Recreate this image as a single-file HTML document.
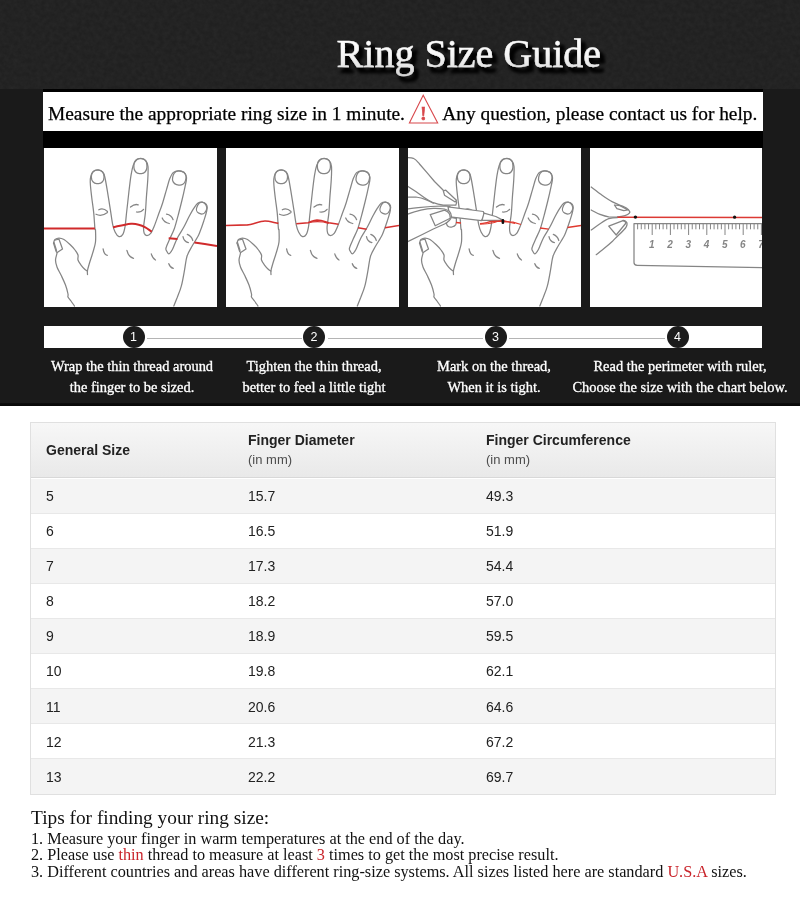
<!DOCTYPE html>
<html lang="en">
<head>
<meta charset="utf-8">
<title>Ring Size Guide</title>
<style>
*{box-sizing:border-box;margin:0;padding:0}
html,body{width:800px;height:914px;overflow:hidden;background:#fff}
body{position:relative;font-family:"Liberation Serif",serif;color:#000}
.abs{position:absolute}
#topband{left:0;top:0;width:800px;height:89px;background:#202020}
#dark{left:0;top:89px;width:800px;height:316.6px;background:linear-gradient(#1a1a1a,#1a1a1a 313.6px,#0a0a0a 314.6px,#080808)}
#blackstrip{left:43px;top:89px;width:720px;height:59px;background:#000}
#whitestrip{left:43px;top:92px;width:720px;height:38.6px;background:#fff}
.strip{font-size:19.1px;line-height:22px;white-space:nowrap;color:#000;-webkit-text-stroke:.25px #000}
.panel{top:147.8px;width:173px;height:159.2px;background:#fff;overflow:hidden}
.panel svg{position:absolute;left:0;top:0;width:173px;height:159px;display:block}
#bar{left:44px;top:326px;width:718px;height:22px;background:#fff}
.dot{top:326px;width:22px;height:22px;border-radius:50%;background:#1c1c1c;color:#fff;
  font-family:"Liberation Sans",sans-serif;font-size:12.5px;line-height:23.6px;text-align:center}
.seg{top:338px;height:1px;background:#b4b4b4}
.step{top:355.7px;width:240px;text-align:center;color:#fff;font-size:14.45px;line-height:21px;white-space:nowrap;
  -webkit-text-stroke:.3px #fff}
#tbl{left:30px;top:422px;width:746.4px;height:372.6px;border:1px solid #e0e0e0;background:#fff;
  font-family:"Liberation Sans",sans-serif;font-size:14px;color:#222}
#tbl .hd{position:absolute;left:0;top:0;width:744.4px;height:55.2px;background:linear-gradient(#f7f7f7,#e9e9e9);border-bottom:1px solid #d8d8d8}
#tbl .row{position:absolute;left:0;width:744.4px;height:35.08px;border-bottom:1px solid #e8e8e8;line-height:16px}
#tbl .row.g{background:#f4f4f4}
#tbl span{position:absolute;white-space:nowrap}
#tbl .c1{left:15px}#tbl .c2{left:217px}#tbl .c3{left:455px}
#tbl .row span{top:9.55px}
#tbl b{font-weight:bold}
#tbl .sub{font-size:13px;color:#4d4d4d}
#tips{left:31px;top:807px;white-space:nowrap;color:#111}
#tips h3{font-weight:normal;font-size:19.33px;line-height:22px;height:23.7px}
#tips p{font-size:16.24px;line-height:16.6px;height:16.6px}
#tips em{font-style:normal;color:#c9242b}
</style>
</head>
<body>
<div id="topband" class="abs"></div>
<svg class="abs" style="left:0;top:0" width="800" height="89" viewBox="0 0 800 89">
<filter id="nz" x="0" y="0" width="100%" height="100%"><feTurbulence type="fractalNoise" baseFrequency="0.22" numOctaves="3" seed="7"/><feColorMatrix type="matrix" values="0 0 0 0 1  0 0 0 0 1  0 0 0 0 1  0.05 0 0 0 -0.012"/></filter>
<rect width="800" height="89" filter="url(#nz)"/>
</svg>
<div id="dark" class="abs"></div>
<div id="blackstrip" class="abs"></div>
<div id="whitestrip" class="abs"></div>
<svg id="title" class="abs" style="left:0;top:0" width="800" height="89" viewBox="0 0 800 89">
<linearGradient id="tg" gradientUnits="userSpaceOnUse" x1="0" y1="38" x2="0" y2="76"><stop offset="0" stop-color="#ffffff"/><stop offset="0.45" stop-color="#f6f6f6"/><stop offset="1" stop-color="#d6d6d6"/></linearGradient>
<filter id="ts" x="-5%" y="-30%" width="112%" height="180%"><feMorphology in="SourceAlpha" operator="dilate" radius="0.6" result="d"/><feGaussianBlur in="d" stdDeviation="1.8" result="b"/><feOffset in="b" dx="3.8" dy="4.8" result="o"/><feComponentTransfer in="o" result="o2"><feFuncA type="linear" slope="0.95"/></feComponentTransfer><feMerge><feMergeNode in="o2"/><feMergeNode in="SourceGraphic"/></feMerge></filter>
<g font-family="Liberation Serif, serif" font-size="40">
<text x="336.6" y="67.2" fill="url(#tg)" stroke="url(#tg)" stroke-width=".45" filter="url(#ts)">Ring Size Guide</text>
</g>
</svg>

<div class="abs strip" id="s1" style="left:48px;top:102.6px;font-size:19.38px">Measure the appropriate ring size in 1 minute.</div>
<div class="abs strip" id="s2" style="left:442.3px;top:102.6px;font-size:19.38px">Any question, please contact us for help.</div>
<svg class="abs" id="warn" style="left:405px;top:92px" width="38" height="36" viewBox="0 0 38 36">
  <path d="M18.2 3.2 L4.4 31 L32.7 31 Z" fill="none" stroke="#d8484c" stroke-width="1.1" stroke-linejoin="miter"/>
  <text x="18.4" y="27.5" text-anchor="middle" font-family="Liberation Serif, serif" font-weight="bold" font-size="18.5" fill="#d8484c" stroke="#d8484c" stroke-width=".6">!</text>
</svg>

<!-- PANELS -->

<div class="abs panel" id="p1" style="left:44px"><svg viewBox="0 0 173 159"><g fill="none" stroke="#858585" stroke-width="1.25" stroke-linecap="round" stroke-linejoin="round">
<path d="M30.5,158.0C29.9,157.2 28.1,154.5 27.0,153.0C25.9,151.5 24.5,150.2 24.0,149.0C23.5,147.8 24.4,148.0 24.0,146.0C23.6,144.0 22.7,140.2 21.5,137.0C20.3,133.8 18.4,130.0 17.0,127.0C15.6,124.0 13.9,121.5 13.0,119.0C12.1,116.5 11.5,114.3 11.5,112.0C11.5,109.7 12.9,106.5 13.0,105.0C13.1,103.5 12.6,104.7 12.0,103.0C11.4,101.3 9.9,96.3 9.5,95.0"/>
<path d="M9.5,95.0C9.8,94.4 10.1,92.3 11.0,91.5C11.9,90.7 13.5,90.0 15.0,90.0C16.5,90.0 18.2,90.4 20.0,91.5C21.8,92.6 24.2,94.8 26.0,96.5C27.8,98.2 29.7,100.2 31.0,102.0C32.3,103.8 33.5,105.3 34.0,107.0C34.5,108.7 33.5,110.3 34.0,112.0C34.5,113.7 35.8,115.4 37.0,117.0C38.2,118.6 39.9,120.5 41.0,121.5C42.1,122.5 43.1,122.8 43.5,123.0"/>
<path d="M43.5,126.5C43.5,125.8 43.2,124.4 43.5,122.5C43.8,120.6 44.6,118.1 45.5,115.0C46.4,111.9 48.0,107.5 49.0,104.0C50.0,100.5 51.1,97.7 51.5,94.0C51.9,90.3 51.6,84.3 51.5,82.0C51.4,79.7 51.2,83.1 50.9,80.4C50.6,77.7 50.3,70.8 49.8,65.6C49.3,60.4 48.3,54.3 47.7,49.2C47.1,44.1 46.4,38.5 46.3,35.0C46.1,31.5 46.3,30.3 46.8,28.4C47.3,26.5 48.1,24.6 49.3,23.5C50.5,22.4 52.7,21.8 54.2,21.9C55.8,22.0 57.5,22.8 58.6,24.0C59.7,25.2 60.0,25.7 60.8,29.0C61.6,32.3 62.6,38.4 63.5,43.8C64.4,49.2 65.4,55.8 66.3,61.3C67.2,66.8 67.9,72.8 68.7,76.6C69.5,80.4 70.2,82.2 71.2,84.2C72.2,86.2 73.7,88.2 75.0,88.6C76.3,89.0 77.8,88.0 78.8,86.4C79.8,84.8 80.3,82.6 81.0,78.8C81.7,75.0 82.0,69.3 82.7,63.5C83.4,57.7 84.2,49.8 84.9,43.8C85.6,37.8 86.3,31.8 87.0,27.4C87.7,23.0 88.3,20.1 89.2,17.5C90.1,14.9 91.2,13.2 92.5,12.0C93.8,10.8 95.4,10.3 96.9,10.4C98.5,10.5 100.6,11.2 101.8,12.6C103.0,14.0 103.7,15.2 104.0,18.6C104.3,22.0 104.0,27.7 103.7,32.8C103.4,37.9 102.8,43.7 102.4,49.2C102.0,54.7 101.8,60.7 101.3,65.6C100.8,70.5 99.8,75.5 99.6,78.8C99.4,82.1 99.7,83.8 100.2,85.3C100.8,86.8 101.8,87.5 102.9,87.5C104.0,87.5 105.5,86.8 106.7,85.3C107.9,83.8 108.7,81.9 110.0,78.8C111.3,75.7 113.0,70.7 114.4,66.7C115.9,62.7 117.4,58.9 118.7,54.7C120.0,50.5 121.3,45.6 122.5,41.6C123.7,37.6 124.7,33.4 125.8,30.6C126.9,27.8 127.6,25.9 129.1,24.6C130.6,23.3 132.8,22.8 134.6,22.8C136.4,22.8 138.7,23.5 140.0,24.6C141.3,25.7 142.3,27.2 142.5,29.5C142.7,31.8 141.9,34.5 141.1,38.3C140.3,42.1 139.1,47.6 137.9,52.5C136.7,57.4 135.3,63.0 134.0,67.8C132.7,72.5 131.6,77.2 130.2,81.0C128.8,84.8 127.2,87.6 125.8,90.8C124.4,94.0 122.5,97.9 122.0,100.0C121.5,102.1 122.3,102.3 122.8,103.3C123.3,104.3 124.0,105.8 124.8,105.8C125.5,105.8 126.6,104.3 127.3,103.3C128.0,102.3 128.1,102.3 129.1,100.0C130.1,97.7 131.7,93.2 133.5,89.7C135.3,86.2 138.0,82.5 140.0,78.8C142.0,75.1 143.8,70.9 145.5,67.8C147.2,64.7 148.5,62.3 149.9,60.2C151.3,58.1 152.3,56.3 153.7,55.3C155.1,54.3 156.7,53.9 158.1,54.2C159.5,54.5 161.1,55.5 161.9,56.9C162.7,58.3 163.2,59.7 162.8,62.4C162.4,65.1 160.9,69.5 159.7,73.3C158.5,77.1 156.5,82.5 155.4,85.3C154.3,88.1 154.2,87.8 153.0,90.0C151.8,92.2 149.7,95.2 148.0,98.3C146.3,101.3 144.2,104.4 143.0,108.3C141.8,112.2 141.5,116.6 140.6,121.6C139.7,126.6 138.6,133.5 137.3,138.2C136.1,142.9 134.3,146.5 133.1,149.8C131.8,153.1 130.4,156.6 129.8,158.0"/>
<path d="M10,94.5L12.5,102.5M11.3,92L15,91.2L18.5,101L13.2,104.6"/>
<rect x="47.4" y="22.2" width="12.6" height="13.3" rx="5.3" ry="5.9"/>
<rect x="89.9" y="10.6" width="13" height="15" rx="5.5" ry="6.3"/>
<rect x="128.7" y="23" width="13.2" height="14" rx="5.5" ry="6" transform="rotate(14 135.3 30)"/>
<rect x="152.9" y="54.3" width="9.8" height="11.6" rx="4.2" ry="4.9" transform="rotate(24 157.8 60.1)"/>
<path d="M54.8,61.8Q59.1,59.5 63.5,63.5M52,66.2Q57.5,69 63.5,64.5M86.5,59Q91,55.5 94.2,56.9M92.5,64Q97,64.5 99.6,61.3M122.5,66.2Q127.5,67 129.1,71.7M118.2,70Q120,74.5 125.3,75.5M143.3,86.4Q147.5,88 148.8,92.5M139,88.6Q139.8,93.5 144.4,94.6"/>
<path d="M59.1,100.8Q60,106.5 63.3,107.4M82.9,102.4Q84.5,109 89.5,110.3M107.3,105.8Q108.5,110.5 111.5,112M124.8,115.7Q126,119.5 129.3,120.4"/>
</g>
<g fill="none" stroke="#d02a2b" stroke-width="2" stroke-linecap="butt">
<path d="M0,80.4L50.9,80.6"/>
<path d="M69,79.3C72,78.8 80,76.4 87,75.7C91,75.4 97,77 101.3,79.3C104,80.8 106,82.6 107.8,83.7"/>
<path d="M124.7,90.3L133.5,91"/>
<path d="M150.4,94.6L160.8,96L173,98"/>
</g></svg></div>
<div class="abs panel" id="p2" style="left:226px"><svg viewBox="0 0 173 159"><g transform="translate(1.5 0)" fill="none" stroke="#858585" stroke-width="1.25" stroke-linecap="round" stroke-linejoin="round">
<path d="M30.5,158.0C29.9,157.2 28.1,154.5 27.0,153.0C25.9,151.5 24.5,150.2 24.0,149.0C23.5,147.8 24.4,148.0 24.0,146.0C23.6,144.0 22.7,140.2 21.5,137.0C20.3,133.8 18.4,130.0 17.0,127.0C15.6,124.0 13.9,121.5 13.0,119.0C12.1,116.5 11.5,114.3 11.5,112.0C11.5,109.7 12.9,106.5 13.0,105.0C13.1,103.5 12.6,104.7 12.0,103.0C11.4,101.3 9.9,96.3 9.5,95.0"/>
<path d="M9.5,95.0C9.8,94.4 10.1,92.3 11.0,91.5C11.9,90.7 13.5,90.0 15.0,90.0C16.5,90.0 18.2,90.4 20.0,91.5C21.8,92.6 24.2,94.8 26.0,96.5C27.8,98.2 29.7,100.2 31.0,102.0C32.3,103.8 33.5,105.3 34.0,107.0C34.5,108.7 33.5,110.3 34.0,112.0C34.5,113.7 35.8,115.4 37.0,117.0C38.2,118.6 39.9,120.5 41.0,121.5C42.1,122.5 43.1,122.8 43.5,123.0"/>
<path d="M43.5,126.5C43.5,125.8 43.2,124.4 43.5,122.5C43.8,120.6 44.6,118.1 45.5,115.0C46.4,111.9 48.0,107.5 49.0,104.0C50.0,100.5 51.1,97.7 51.5,94.0C51.9,90.3 51.6,84.3 51.5,82.0C51.4,79.7 51.2,83.1 50.9,80.4C50.6,77.7 50.3,70.8 49.8,65.6C49.3,60.4 48.3,54.3 47.7,49.2C47.1,44.1 46.4,38.5 46.3,35.0C46.1,31.5 46.3,30.3 46.8,28.4C47.3,26.5 48.1,24.6 49.3,23.5C50.5,22.4 52.7,21.8 54.2,21.9C55.8,22.0 57.5,22.8 58.6,24.0C59.7,25.2 60.0,25.7 60.8,29.0C61.6,32.3 62.6,38.4 63.5,43.8C64.4,49.2 65.4,55.8 66.3,61.3C67.2,66.8 67.9,72.8 68.7,76.6C69.5,80.4 70.2,82.2 71.2,84.2C72.2,86.2 73.7,88.2 75.0,88.6C76.3,89.0 77.8,88.0 78.8,86.4C79.8,84.8 80.3,82.6 81.0,78.8C81.7,75.0 82.0,69.3 82.7,63.5C83.4,57.7 84.2,49.8 84.9,43.8C85.6,37.8 86.3,31.8 87.0,27.4C87.7,23.0 88.3,20.1 89.2,17.5C90.1,14.9 91.2,13.2 92.5,12.0C93.8,10.8 95.4,10.3 96.9,10.4C98.5,10.5 100.6,11.2 101.8,12.6C103.0,14.0 103.7,15.2 104.0,18.6C104.3,22.0 104.0,27.7 103.7,32.8C103.4,37.9 102.8,43.7 102.4,49.2C102.0,54.7 101.8,60.7 101.3,65.6C100.8,70.5 99.8,75.5 99.6,78.8C99.4,82.1 99.7,83.8 100.2,85.3C100.8,86.8 101.8,87.5 102.9,87.5C104.0,87.5 105.5,86.8 106.7,85.3C107.9,83.8 108.7,81.9 110.0,78.8C111.3,75.7 113.0,70.7 114.4,66.7C115.9,62.7 117.4,58.9 118.7,54.7C120.0,50.5 121.3,45.6 122.5,41.6C123.7,37.6 124.7,33.4 125.8,30.6C126.9,27.8 127.6,25.9 129.1,24.6C130.6,23.3 132.8,22.8 134.6,22.8C136.4,22.8 138.7,23.5 140.0,24.6C141.3,25.7 142.3,27.2 142.5,29.5C142.7,31.8 141.9,34.5 141.1,38.3C140.3,42.1 139.1,47.6 137.9,52.5C136.7,57.4 135.3,63.0 134.0,67.8C132.7,72.5 131.6,77.2 130.2,81.0C128.8,84.8 127.2,87.6 125.8,90.8C124.4,94.0 122.5,97.9 122.0,100.0C121.5,102.1 122.3,102.3 122.8,103.3C123.3,104.3 124.0,105.8 124.8,105.8C125.5,105.8 126.6,104.3 127.3,103.3C128.0,102.3 128.1,102.3 129.1,100.0C130.1,97.7 131.7,93.2 133.5,89.7C135.3,86.2 138.0,82.5 140.0,78.8C142.0,75.1 143.8,70.9 145.5,67.8C147.2,64.7 148.5,62.3 149.9,60.2C151.3,58.1 152.3,56.3 153.7,55.3C155.1,54.3 156.7,53.9 158.1,54.2C159.5,54.5 161.1,55.5 161.9,56.9C162.7,58.3 163.2,59.7 162.8,62.4C162.4,65.1 160.9,69.5 159.7,73.3C158.5,77.1 156.5,82.5 155.4,85.3C154.3,88.1 154.2,87.8 153.0,90.0C151.8,92.2 149.7,95.2 148.0,98.3C146.3,101.3 144.2,104.4 143.0,108.3C141.8,112.2 141.5,116.6 140.6,121.6C139.7,126.6 138.6,133.5 137.3,138.2C136.1,142.9 134.3,146.5 133.1,149.8C131.8,153.1 130.4,156.6 129.8,158.0"/>
<path d="M10,94.5L12.5,102.5M11.3,92L15,91.2L18.5,101L13.2,104.6"/>
<rect x="47.4" y="22.2" width="12.6" height="13.3" rx="5.3" ry="5.9"/>
<rect x="89.9" y="10.6" width="13" height="15" rx="5.5" ry="6.3"/>
<rect x="128.7" y="23" width="13.2" height="14" rx="5.5" ry="6" transform="rotate(14 135.3 30)"/>
<rect x="152.9" y="54.3" width="9.8" height="11.6" rx="4.2" ry="4.9" transform="rotate(24 157.8 60.1)"/>
<path d="M54.8,61.8Q59.1,59.5 63.5,63.5M52,66.2Q57.5,69 63.5,64.5M86.5,59Q91,55.5 94.2,56.9M92.5,64Q97,64.5 99.6,61.3M122.5,66.2Q127.5,67 129.1,71.7M118.2,70Q120,74.5 125.3,75.5M143.3,86.4Q147.5,88 148.8,92.5M139,88.6Q139.8,93.5 144.4,94.6"/>
<path d="M59.1,100.8Q60,106.5 63.3,107.4M82.9,102.4Q84.5,109 89.5,110.3M107.3,105.8Q108.5,110.5 111.5,112M124.8,115.7Q126,119.5 129.3,120.4"/>
</g>
<g fill="none" stroke="#d5302f" stroke-width="1.6" stroke-linecap="butt">
<path d="M0,77.5L21.6,76.9C26,76.5 34,73 39,73C43,73 48,74.6 52.4,75.4"/>
<path d="M70.3,75.8L82.2,74.7C85,74 87,72.1 91,72C96,72 100,74 102.7,74.7L112.5,76.2"/>
<path d="M82.2,74.7C86,73.8 92,73.4 97.3,74L102.7,75.4" stroke-width="1.2"/>
<path d="M132,79.7L140.6,81.2"/>
<path d="M159,79.7L173,77.5"/>
</g></svg></div>
<div class="abs panel" id="p3" style="left:407.7px"><svg viewBox="0 0 173 159"><g transform="translate(2 0)" fill="none" stroke="#858585" stroke-width="1.25" stroke-linecap="round" stroke-linejoin="round">
<path d="M30.5,158.0C29.9,157.2 28.1,154.5 27.0,153.0C25.9,151.5 24.5,150.2 24.0,149.0C23.5,147.8 24.4,148.0 24.0,146.0C23.6,144.0 22.7,140.2 21.5,137.0C20.3,133.8 18.4,130.0 17.0,127.0C15.6,124.0 13.9,121.5 13.0,119.0C12.1,116.5 11.5,114.3 11.5,112.0C11.5,109.7 12.9,106.5 13.0,105.0C13.1,103.5 12.6,104.7 12.0,103.0C11.4,101.3 9.9,96.3 9.5,95.0"/>
<path d="M9.5,95.0C9.8,94.4 10.1,92.3 11.0,91.5C11.9,90.7 13.5,90.0 15.0,90.0C16.5,90.0 18.2,90.4 20.0,91.5C21.8,92.6 24.2,94.8 26.0,96.5C27.8,98.2 29.7,100.2 31.0,102.0C32.3,103.8 33.5,105.3 34.0,107.0C34.5,108.7 33.5,110.3 34.0,112.0C34.5,113.7 35.8,115.4 37.0,117.0C38.2,118.6 39.9,120.5 41.0,121.5C42.1,122.5 43.1,122.8 43.5,123.0"/>
<path d="M43.5,126.5C43.5,125.8 43.2,124.4 43.5,122.5C43.8,120.6 44.6,118.1 45.5,115.0C46.4,111.9 48.0,107.5 49.0,104.0C50.0,100.5 51.1,97.7 51.5,94.0C51.9,90.3 51.6,84.3 51.5,82.0C51.4,79.7 51.2,83.1 50.9,80.4C50.6,77.7 50.3,70.8 49.8,65.6C49.3,60.4 48.3,54.3 47.7,49.2C47.1,44.1 46.4,38.5 46.3,35.0C46.1,31.5 46.3,30.3 46.8,28.4C47.3,26.5 48.1,24.6 49.3,23.5C50.5,22.4 52.7,21.8 54.2,21.9C55.8,22.0 57.5,22.8 58.6,24.0C59.7,25.2 60.0,25.7 60.8,29.0C61.6,32.3 62.6,38.4 63.5,43.8C64.4,49.2 65.4,55.8 66.3,61.3C67.2,66.8 67.9,72.8 68.7,76.6C69.5,80.4 70.2,82.2 71.2,84.2C72.2,86.2 73.7,88.2 75.0,88.6C76.3,89.0 77.8,88.0 78.8,86.4C79.8,84.8 80.3,82.6 81.0,78.8C81.7,75.0 82.0,69.3 82.7,63.5C83.4,57.7 84.2,49.8 84.9,43.8C85.6,37.8 86.3,31.8 87.0,27.4C87.7,23.0 88.3,20.1 89.2,17.5C90.1,14.9 91.2,13.2 92.5,12.0C93.8,10.8 95.4,10.3 96.9,10.4C98.5,10.5 100.6,11.2 101.8,12.6C103.0,14.0 103.7,15.2 104.0,18.6C104.3,22.0 104.0,27.7 103.7,32.8C103.4,37.9 102.8,43.7 102.4,49.2C102.0,54.7 101.8,60.7 101.3,65.6C100.8,70.5 99.8,75.5 99.6,78.8C99.4,82.1 99.7,83.8 100.2,85.3C100.8,86.8 101.8,87.5 102.9,87.5C104.0,87.5 105.5,86.8 106.7,85.3C107.9,83.8 108.7,81.9 110.0,78.8C111.3,75.7 113.0,70.7 114.4,66.7C115.9,62.7 117.4,58.9 118.7,54.7C120.0,50.5 121.3,45.6 122.5,41.6C123.7,37.6 124.7,33.4 125.8,30.6C126.9,27.8 127.6,25.9 129.1,24.6C130.6,23.3 132.8,22.8 134.6,22.8C136.4,22.8 138.7,23.5 140.0,24.6C141.3,25.7 142.3,27.2 142.5,29.5C142.7,31.8 141.9,34.5 141.1,38.3C140.3,42.1 139.1,47.6 137.9,52.5C136.7,57.4 135.3,63.0 134.0,67.8C132.7,72.5 131.6,77.2 130.2,81.0C128.8,84.8 127.2,87.6 125.8,90.8C124.4,94.0 122.5,97.9 122.0,100.0C121.5,102.1 122.3,102.3 122.8,103.3C123.3,104.3 124.0,105.8 124.8,105.8C125.5,105.8 126.6,104.3 127.3,103.3C128.0,102.3 128.1,102.3 129.1,100.0C130.1,97.7 131.7,93.2 133.5,89.7C135.3,86.2 138.0,82.5 140.0,78.8C142.0,75.1 143.8,70.9 145.5,67.8C147.2,64.7 148.5,62.3 149.9,60.2C151.3,58.1 152.3,56.3 153.7,55.3C155.1,54.3 156.7,53.9 158.1,54.2C159.5,54.5 161.1,55.5 161.9,56.9C162.7,58.3 163.2,59.7 162.8,62.4C162.4,65.1 160.9,69.5 159.7,73.3C158.5,77.1 156.5,82.5 155.4,85.3C154.3,88.1 154.2,87.8 153.0,90.0C151.8,92.2 149.7,95.2 148.0,98.3C146.3,101.3 144.2,104.4 143.0,108.3C141.8,112.2 141.5,116.6 140.6,121.6C139.7,126.6 138.6,133.5 137.3,138.2C136.1,142.9 134.3,146.5 133.1,149.8C131.8,153.1 130.4,156.6 129.8,158.0"/>
<path d="M10,94.5L12.5,102.5M11.3,92L15,91.2L18.5,101L13.2,104.6"/>
<rect x="47.4" y="22.2" width="12.6" height="13.3" rx="5.3" ry="5.9"/>
<rect x="89.9" y="10.6" width="13" height="15" rx="5.5" ry="6.3"/>
<rect x="128.7" y="23" width="13.2" height="14" rx="5.5" ry="6" transform="rotate(14 135.3 30)"/>
<rect x="152.9" y="54.3" width="9.8" height="11.6" rx="4.2" ry="4.9" transform="rotate(24 157.8 60.1)"/>
<path d="M54.8,61.8Q59.1,59.5 63.5,63.5M52,66.2Q57.5,69 63.5,64.5M86.5,59Q91,55.5 94.2,56.9M92.5,64Q97,64.5 99.6,61.3M122.5,66.2Q127.5,67 129.1,71.7M118.2,70Q120,74.5 125.3,75.5M143.3,86.4Q147.5,88 148.8,92.5M139,88.6Q139.8,93.5 144.4,94.6"/>
<path d="M59.1,100.8Q60,106.5 63.3,107.4M82.9,102.4Q84.5,109 89.5,110.3M107.3,105.8Q108.5,110.5 111.5,112M124.8,115.7Q126,119.5 129.3,120.4"/>
</g>
<g fill="#fff" stroke="#858585" stroke-width="1.25" stroke-linecap="round" stroke-linejoin="round">
<path d="M-2,9.6C1,9.7 4,9.8 5.3,10.3C8,11.5 9.6,13.8 11.5,16L19,24.7L26.5,33.5L35.3,42.2L47.8,52.2L48.6,54.6L47.8,57.2L35.3,57.2C32,56.8 28,55.8 25.3,54.7C22,53.2 19,51.5 16.5,49.7L7.8,43.5L-2,37.2Z"/>
<path d="M35.3,42.8L37.8,42.2L48.4,52.2L47.2,54L36.5,47.2Z"/>
<path d="M0,49L7.8,49C11,49.4 15,50.4 17.8,51.6C20.5,52.7 23,54 25.3,55.3" fill="none"/>
<path d="M0,61C4,60.4 7,60 10.3,59.7L22.8,58.5L37.8,57.8L42,58.6" fill="none"/>
<path d="M38.4,75.3C38.8,77 39.4,78 40.3,78.5C41.5,79.2 42.8,79.3 44,79C45.6,78.6 47,77.8 47.8,76.6C48.5,75 48.5,72.5 48.4,70.3L40,69Z"/>
<path d="M40,58.8L75.3,63.5C76,65 76.2,66 76,67.2C75.6,69.4 74.6,71 73.4,72.6L42,68.9Z"/>
<path d="M76,65.2L87.8,68.5L95.3,72.4L74,72.4Z"/>
<path d="M-2,66.7C3,64.8 8,63.3 12.8,62.2C17,61.2 21,60.5 25.3,60.3C29,60.2 33,60.4 36.5,61C38.5,61.6 40.3,62.4 41.5,63.5C42.8,65 43.5,66.8 43.4,68.5C43.2,70 42.5,71.2 41.5,72.2C40,73.8 38.3,75 36.5,76L25.3,81L12.8,87.2L-2,94.5Z"/>
<path d="M22.2,66.6L36.5,62.2C38.8,63 40.6,64.3 41.5,66C42.1,67.5 42.3,69 42.2,70.3L27.2,77.8Z"/>
</g>
<g fill="none" stroke="#e0392f" stroke-width="1.3" stroke-linecap="butt">
<path d="M48,74.5L53,75"/>
<path d="M72,75.7C76,75.5 80,74 84,73.5C88,73 91,73.3 94.5,73.5C99,73.8 102,73.8 105,74.2L113,76.5"/>
<path d="M72,76.2C78,76 82,75.5 86,74.6C90,73.5 92,72.4 95,72.6C99,73 103,75 107,75.5" stroke-width="1"/>
<path d="M132,80L140.7,81.2"/>
<path d="M159.5,79.5L173,77.5"/>
</g>
<rect x="93.6" y="71" width="2.6" height="5" rx="1.2" fill="#111"/>
</svg></div>
<div class="abs panel" id="p4" style="left:589.6px;width:172.8px"><svg viewBox="0 0 173 159">
<g fill="none" stroke="#858585" stroke-width="1.25" stroke-linecap="round" stroke-linejoin="round">
<path d="M1.2,39C4,41 7,43.5 10,45.7C14,48.5 18,51.5 22.5,53.9C26,55.8 29,56.8 32.5,58.2C35,59.2 37.5,60.5 38.7,62C39.8,63.2 40,64.2 39.4,65C38.5,66.2 37,67 35,67.6C33,68.2 30,68.7 27.5,68.9"/>
<path d="M1.2,62C4,63.5 7,65.3 10,66.4C13,67.5 16,68.5 18.7,68.9L27.5,69.1"/>
<path d="M24.4,57L30,57.6L38,62L33.7,62.6L26.9,60.7Z"/>
<path d="M1.2,82C4,80 7,77.6 10,75.7C13,73.8 16,71.8 18.7,70.7C21.5,69.8 24.5,69.5 27.5,69.5"/>
<path d="M33,72.3C35,72.5 36.5,73.5 37,75C37.3,77 36.5,79.5 33.7,82C32,84 30.5,85.5 28.7,87C26.5,89 24.5,91.2 22.5,93.2C19.5,96 16.5,98.5 13.7,100.7C11,102.8 8.5,105 6.2,106.7"/>
<path d="M18.7,78.2L33,72.6C34.5,73 35.6,73.8 36,75L26.2,87Z"/>
<path d="M44,75.7L173,75.7M44,75.7L44,114.5Q44,117.2 47.2,117.3L173,119.6"/>
<path d="M47.64,75.7v5.6M51.28,75.7v5.6M54.92,75.7v5.6M58.56,75.7v5.6M62.20,75.7v11.3M65.84,75.7v5.6M69.48,75.7v5.6M73.12,75.7v5.6M76.76,75.7v5.6M80.40,75.7v11.3M84.04,75.7v5.6M87.68,75.7v5.6M91.32,75.7v5.6M94.96,75.7v5.6M98.60,75.7v11.3M102.24,75.7v5.6M105.88,75.7v5.6M109.52,75.7v5.6M113.16,75.7v5.6M116.80,75.7v11.3M120.44,75.7v5.6M124.08,75.7v5.6M127.72,75.7v5.6M131.36,75.7v5.6M135.00,75.7v11.3M138.64,75.7v5.6M142.28,75.7v5.6M145.92,75.7v5.6M149.56,75.7v5.6M153.20,75.7v11.3M156.84,75.7v5.6M160.48,75.7v5.6M164.12,75.7v5.6M167.76,75.7v5.6M171.40,75.7v11.3" stroke-width="1" stroke-linecap="butt"/>
</g>
<g font-family="Liberation Sans, sans-serif" font-style="italic" font-weight="bold" font-size="10" fill="#858585" text-anchor="middle"><text x="61.9" y="100.2">1</text><text x="80.1" y="100.2">2</text><text x="98.3" y="100.2">3</text><text x="116.5" y="100.2">4</text><text x="134.7" y="100.2">5</text><text x="152.9" y="100.2">6</text><text x="171.1" y="100.2">7</text></g>
<path d="M27.5,69.2L173,69.6" stroke="#dc3a34" stroke-width="1.5" fill="none"/>
<circle cx="45.4" cy="69.1" r="1.7" fill="#111"/><circle cx="144.6" cy="69.2" r="1.6" fill="#111"/>
</svg></div>

<!-- STEPS -->
<div id="bar" class="abs"></div>
<div class="abs seg" style="left:147px;width:155px"></div>
<div class="abs seg" style="left:328px;width:155px"></div>
<div class="abs seg" style="left:509px;width:156px"></div>
<div class="abs dot" style="left:122.5px">1</div>
<div class="abs dot" style="left:303.1px">2</div>
<div class="abs dot" style="left:484.5px">3</div>
<div class="abs dot" style="left:666.5px">4</div>

<div class="abs step" style="left:12px">Wrap the thin thread around<br>the finger to be sized.</div>
<div class="abs step" style="left:194px">Tighten the thin thread,<br>better to feel a little tight</div>
<div class="abs step" style="left:374px">Mark on the thread,<br>When it is tight.</div>
<div class="abs step" style="left:560px">Read the perimeter with ruler,<br>Choose the size with the chart below.</div>

<!-- TABLE -->
<div id="tbl" class="abs">
  <div class="hd">
    <span class="c1" style="top:18.9px"><b>General Size</b></span>
    <span class="c2" style="top:8.5px"><b>Finger Diameter</b></span>
    <span class="c2 sub" style="top:29.2px">(in mm)</span>
    <span class="c3" style="top:8.5px"><b>Finger Circumference</b></span>
    <span class="c3 sub" style="top:29.2px">(in mm)</span>
  </div>
  <div class="row g" style="top:55.50px"><span class="c1">5</span><span class="c2">15.7</span><span class="c3">49.3</span></div>
  <div class="row" style="top:90.58px"><span class="c1">6</span><span class="c2">16.5</span><span class="c3">51.9</span></div>
  <div class="row g" style="top:125.66px"><span class="c1">7</span><span class="c2">17.3</span><span class="c3">54.4</span></div>
  <div class="row" style="top:160.74px"><span class="c1">8</span><span class="c2">18.2</span><span class="c3">57.0</span></div>
  <div class="row g" style="top:195.82px"><span class="c1">9</span><span class="c2">18.9</span><span class="c3">59.5</span></div>
  <div class="row" style="top:230.90px"><span class="c1">10</span><span class="c2">19.8</span><span class="c3">62.1</span></div>
  <div class="row g" style="top:265.98px"><span class="c1">11</span><span class="c2">20.6</span><span class="c3">64.6</span></div>
  <div class="row" style="top:301.06px"><span class="c1">12</span><span class="c2">21.3</span><span class="c3">67.2</span></div>
  <div class="row g" style="top:336.14px;border-bottom:0"><span class="c1">13</span><span class="c2">22.2</span><span class="c3">69.7</span></div>
</div>

<!-- TIPS -->
<div id="tips" class="abs">
  <h3>Tips for finding your ring size:</h3>
  <p>1. Measure your finger in warm temperatures at the end of the day.</p>
  <p>2. Please use <em>thin</em> thread to measure at least <em>3</em> times to get the most precise result.</p>
  <p>3. Different countries and areas have different ring-size systems. All sizes listed here are standard <em>U.S.A</em> sizes.</p>
</div>
</body>
</html>
